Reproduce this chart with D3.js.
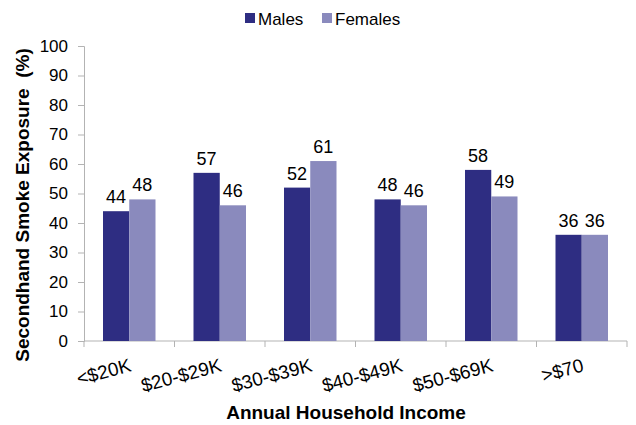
<!DOCTYPE html>
<html><head><meta charset="utf-8">
<script src="https://cdn.jsdelivr.net/npm/d3@7"></script>
<style>body{margin:0;background:#fff}svg{display:block}text{font-family:"Liberation Sans",Arial,sans-serif;fill:#000}</style>
</head><body>
<script>
const categories = ["<$20K","$20-$29K","$30-$39K","$40-$49K","$50-$69K",">$70"];
const seriesNames = ["Males","Females"];
const males = [44,57,52,48,58,36];
const females = [48,46,61,46,49,36];
const yTicks = [0,10,20,30,40,50,60,70,80,90,100];
const colors = ["#2e2d82","#8a8abd"];

(function(){
const W=636,H=425;
const svg=d3.select("body").append("svg").attr("width",W).attr("height",H);
const mL=84,mR=627,mT=46,mB=341;
const x=d3.scaleBand().domain(categories).range([mL,mR]).padding(0);
const inner=d3.scaleBand().domain(seriesNames).range([19,x.bandwidth()-19]);
const y=d3.scaleLinear().domain([0,100]).range([mB,mT]);
const axisColor="#b3b3b3";

// y axis
const ya=svg.append("g").attr("transform",`translate(${mL},0)`)
  .call(d3.axisLeft(y).tickValues(yTicks).tickSize(6).tickPadding(10));
ya.select(".domain").attr("stroke",axisColor);
ya.selectAll(".tick line").attr("stroke",axisColor);
ya.selectAll(".tick text").style("font-size","17px").attr("fill","#000").style("font-family","'Liberation Sans',Arial,sans-serif");

// x axis
const xa=svg.append("g").attr("transform",`translate(0,${mB})`);
xa.append("line").attr("x1",mL).attr("x2",mR).attr("stroke",axisColor);
const bounds=categories.map(c=>x(c)).concat([mR]);
xa.selectAll("line.t").data(bounds).join("line").attr("class","t")
  .attr("x1",d=>d).attr("x2",d=>d).attr("y1",0).attr("y2",6).attr("stroke",axisColor);

const data=categories.map((c,i)=>({c,vals:[{s:"Males",v:males[i]},{s:"Females",v:females[i]}]}));
const g=svg.append("g").selectAll("g").data(data).join("g").attr("transform",d=>`translate(${x(d.c)},0)`);
g.selectAll("rect").data(d=>d.vals).join("rect")
  .attr("x",d=>inner(d.s)).attr("width",inner.bandwidth())
  .attr("y",d=>y(d.v)).attr("height",d=>mB-y(d.v))
  .attr("fill",(d,i)=>colors[i]);
g.selectAll("text.v").data(d=>d.vals).join("text").attr("class","v")
  .attr("x",d=>inner(d.s)+inner.bandwidth()/2).attr("y",d=>y(d.v)-8)
  .attr("text-anchor","middle").style("font-size","18px").text(d=>d.v);

// x labels
svg.append("g").selectAll("text").data(categories).join("text")
  .attr("transform",d=>`translate(${x(d)+x.bandwidth()/2+3},371) rotate(-15)`)
  .attr("text-anchor","end").style("font-size","19px").text(d=>d);

// titles
svg.append("text").attr("x",346).attr("y",419).attr("text-anchor","middle")
  .style("font-size","19px").style("font-weight","bold").text("Annual Household Income");
svg.append("text").attr("transform","translate(29,205) rotate(-90)").attr("text-anchor","middle")
  .style("font-size","19px").style("font-weight","bold")
  .style("white-space","pre").text("Secondhand Smoke Exposure  (%)");

// legend
const lg=svg.append("g");
const lx=[245,322];
seriesNames.forEach((s,i)=>{
  lg.append("rect").attr("x",lx[i]).attr("y",13).attr("width",10).attr("height",10).attr("fill",colors[i]);
  lg.append("text").attr("x",lx[i]+13).attr("y",25).style("font-size","17px").text(s);
});
})();
</script>
</body></html>
